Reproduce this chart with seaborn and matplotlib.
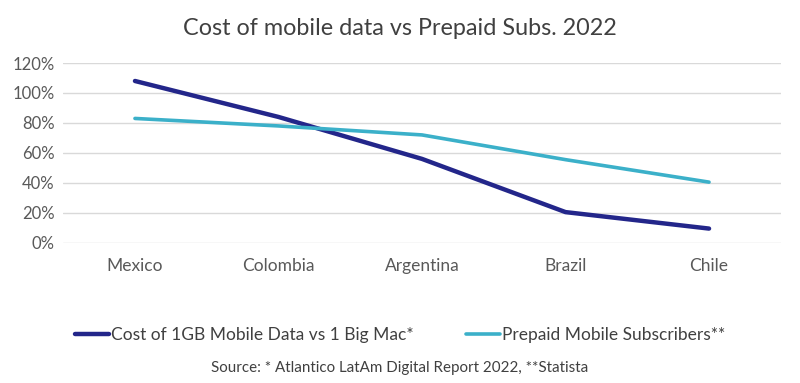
import pandas as pd
import matplotlib.pyplot as plt
import seaborn as sns
from matplotlib.ticker import PercentFormatter

sns.set_theme(style="white")
plt.rcParams['font.family'] = ['Lato', 'DejaVu Sans']

# dados
paises = ['Mexico', 'Colombia', 'Argentina', 'Brazil', 'Chile']
custo_dados = [108, 84, 56, 20.5, 9.5]
pre_pago = [83, 78, 72, 55.5, 40.5]

serie_custo = 'Cost of 1GB Mobile Data vs 1 Big Mac*'
serie_prepago = 'Prepaid Mobile Subscribers**'

df = pd.DataFrame({'pais': paises * 2,
                   'valor': custo_dados + pre_pago,
                   'serie': [serie_custo] * 5 + [serie_prepago] * 5})

fig = plt.figure(figsize=(8, 3.83), dpi=100)
ax = fig.add_axes([0.079, 0.366, 0.897, 0.4695])

sns.lineplot(data=df, x='pais', y='valor', hue='serie', ax=ax, sort=False,
             palette={serie_custo: '#23268a', serie_prepago: '#3bb0c9'}, legend=False)
ax.lines[0].set_linewidth(3.2)
ax.lines[1].set_linewidth(2.6)
for l in ax.lines:
    l.set_solid_capstyle('round')

ax.set_xlim(-0.5, 4.5)
ax.set_ylim(0, 120)
ax.set_yticks(range(0, 121, 20))
ax.yaxis.set_major_formatter(PercentFormatter(decimals=0))
ax.grid(axis='y', color='#d9d9d9', linewidth=1)
ax.set_axisbelow(True)
for s in ax.spines.values():
    s.set_visible(False)
ax.set_xlabel('')
ax.set_ylabel('')
ax.tick_params(axis='both', colors='#595959', length=0)
ax.tick_params(axis='x', labelsize=12.5, pad=11)
ax.tick_params(axis='y', labelsize=12, pad=6)

fig.text(0.5, 0.925, 'Cost of mobile data vs Prepaid Subs. 2022', ha='center', va='center',
         fontsize=16.8, color='#404040')

handles = [plt.Line2D([], [], color='#23268a', lw=3.2),
           plt.Line2D([], [], color='#3bb0c9', lw=2.6)]
fig.legend(handles, [serie_custo, serie_prepago], loc='center', bbox_to_anchor=(0.5, 0.125),
           ncol=2, frameon=False, fontsize=12.5, handlelength=2.0, handletextpad=0.1,
           columnspacing=3.0, labelcolor='#404040')

fig.text(0.5, 0.04, 'Source: * Atlantico LatAm Digital Report 2022, **Statista', ha='center',
         va='center', fontsize=10.9, color='#404040')

fig.savefig('out.png', dpi=100)
